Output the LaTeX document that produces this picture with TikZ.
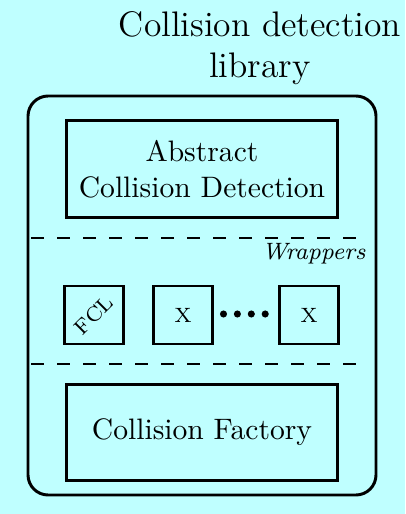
\documentclass[tikz,border=0pt]{standalone}
\usetikzlibrary{
  arrows.meta,
  positioning,
}
\definecolor{bgcyan}{RGB}{191,255,255}

\begin{document}
\begin{tikzpicture}[x=0.338pt,y=-0.338pt]%
\tikzstyle{module}=[rectangle,draw=black,line width=1pt,minimum width=91.3pt,minimum height=32.5pt,align=center,inner sep=0pt]
\tikzstyle{wrapper}=[rectangle,draw=black,line width=1pt,minimum width=20.2pt,minimum height=19.6pt,inner sep=0pt]
\tikzstyle{divider}=[line width=0.7pt,dash pattern=on 4.4pt off 4.4pt]
\fill[bgcyan] (0,0) rectangle (405,514);
\useasboundingbox (0,0) rectangle (405,514);
\node[align=center,font=\large] (title) at (260,48) {Collision detection\\library};
\draw[line width=1pt,rounded corners=6.8pt] (28,96) rectangle (376,495);
\node[module] (abstract) at (202,169) {Abstract\\Collision Detection};
\node[module] (factory) at (202,432.5) {Collision Factory};
\coordinate (d1l) at (31,238);
\coordinate (d1r) at (366,238);
\coordinate (d2l) at (31,364);
\coordinate (d2r) at (366,364);
\draw[divider] (d1l) -- (d1r);
\draw[divider] (d2l) -- (d2r);
\node[font=\footnotesize\itshape,anchor=base east,inner sep=0pt] (wraplabel) at (366,260) {Wrappers};
\node[wrapper] (fcl) at (94,315) {\rotatebox{45}{\scriptsize FCL}};
\node[wrapper] (xa) [right=8.9pt of fcl] {\scriptsize X};
\node[wrapper] (xb) at (309,315) {\scriptsize X};
% dots between the wrappers
\foreach \i in {0,...,3}
  \fill (223.5+\i*13.9,314) circle (1.2pt);
\end{tikzpicture}
\end{document}
